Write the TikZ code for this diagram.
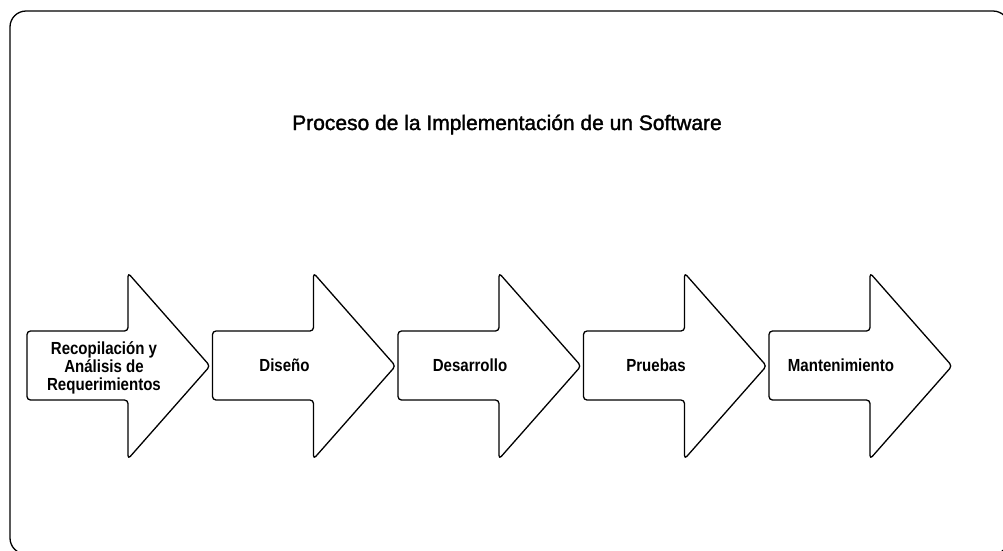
\documentclass[tikz,border=0pt]{standalone}
\usepackage{fontspec}
\setmainfont{Liberation Sans}
\newfontfamily\etiqfont[FakeStretch=0.86]{Liberation Sans}
\newfontfamily\titfont[FakeBold=1.5]{Liberation Sans}
\tikzstyle{marco}=[draw, line width=1.3pt, rounded corners=16pt]
\tikzstyle{flecha}=[draw, fill=white, line width=1.3pt, rounded corners=3.5pt, line join=round]
\tikzstyle{paso}=[font=\etiqfont\bfseries\fontsize{17.5}{18}\selectfont, align=center, inner sep=0pt]
\tikzstyle{titulo}=[font=\titfont\fontsize{21}{25}\selectfont, inner sep=0pt]
\begin{document}
\begin{tikzpicture}[x=1pt, y=-1pt]
        \useasboundingbox (0,0) rectangle (1003,550);
        \clip (0,0) rectangle (1003,550);
        \draw[marco] (10,11) rectangle (1009,554);
        \node[titulo, anchor=base] (T) at (507,130) {Proceso de la Implementación de un Software};
        \foreach \x in {27,212.5,398,583.5,769} {
            \draw[flecha] (\x,331) -- ++(101,0) -- ++(0,-58) -- ++(82,93) -- ++(-82,93) -- ++(0,-59) -- ++(-101,0) -- cycle;
        }
        \node[paso]              (P1) at (104,368)   {Recopilación y\\Análisis de\\Requerimientos};
        \node[paso, anchor=base] (P2) at (284.5,371) {Diseño};
        \node[paso, anchor=base] (P3) at (470,371)   {Desarrollo};
        \node[paso, anchor=base] (P4) at (656,371)   {Pruebas};
        \node[paso, anchor=base] (P5) at (841,371)   {Mantenimiento};
    \end{tikzpicture}
\end{document}
